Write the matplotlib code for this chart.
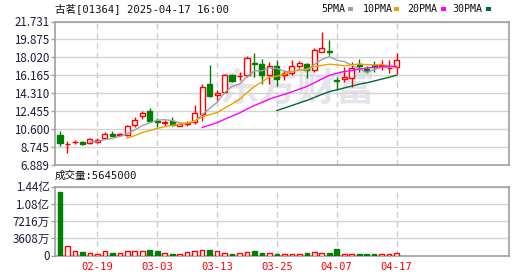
import matplotlib
matplotlib.use('Agg')
import matplotlib.pyplot as plt
import numpy as np
import pandas as pd
from matplotlib.patches import Rectangle

# ---------------- data ----------------
dates = ['02-12', '02-13', '02-14', '02-17', '02-18', '02-19', '02-20', '02-21',
         '02-24', '02-25', '02-26', '02-27', '02-28', '03-03', '03-04', '03-05',
         '03-06', '03-07', '03-10', '03-11', '03-12', '03-13', '03-14', '03-17',
         '03-18', '03-19', '03-20', '03-21', '03-24', '03-25', '03-26', '03-27',
         '03-28', '03-31', '04-01', '04-02', '04-03', '04-07', '04-08', '04-09',
         '04-10', '04-11', '04-14', '04-15', '04-16', '04-17']
open_ = [9.98, 9.04, 9.26, 9.28, 9.15, 9.31, 9.70, 10.05, 10.03, 10.01, 11.02, 11.96,
         12.44, 11.40, 11.27, 11.47, 10.92, 11.18, 11.29, 12.17, 15.29, 14.15, 14.42,
         16.23, 16.05, 16.16, 17.45, 17.38, 16.16, 17.10, 16.16, 16.45, 17.10, 17.38,
         16.75, 18.60, 18.70, 15.70, 15.80, 15.90, 17.38, 16.80, 17.20, 17.15, 16.92, 17.03]
high = [10.36, 9.38, 9.46, 9.32, 9.73, 9.73, 10.32, 10.43, 10.19, 11.02, 11.89, 12.44,
        12.75, 11.75, 11.54, 11.81, 11.26, 11.47, 13.14, 15.22, 17.20, 14.60, 16.26,
        16.33, 16.50, 18.14, 18.50, 17.90, 17.54, 17.70, 16.68, 17.70, 17.60, 17.42,
        18.96, 20.60, 19.80, 16.00, 17.00, 17.55, 17.90, 17.10, 17.60, 17.70, 17.70, 18.50]
low = [8.87, 8.11, 9.10, 8.94, 9.10, 9.21, 9.63, 9.84, 9.91, 9.94, 10.77, 11.60,
       11.37, 10.77, 10.92, 10.95, 10.88, 10.95, 11.13, 11.47, 13.90, 13.55, 14.36,
       15.50, 15.64, 15.98, 16.00, 15.30, 15.30, 15.10, 15.64, 16.16, 16.90, 15.87,
       16.50, 18.60, 18.30, 14.60, 15.50, 14.94, 16.50, 16.40, 16.55, 16.70, 16.40, 16.30]
close = [9.21, 9.10, 9.30, 9.10, 9.56, 9.52, 10.12, 9.94, 10.07, 10.95, 11.54, 12.30,
         11.47, 11.30, 11.31, 11.02, 11.13, 11.22, 12.27, 14.94, 14.07, 14.36, 16.16,
         15.57, 16.10, 17.96, 17.35, 16.16, 17.10, 15.81, 16.45, 17.10, 17.40, 16.70,
         18.80, 19.00, 18.60, 15.55, 16.00, 16.95, 17.13, 16.65, 17.10, 17.20, 16.97, 17.72]
volume = [132000000, 19000000, 9000000, 7000000, 4800000, 3500000, 9000000, 4800000,
          4800000, 9000000, 10000000, 10000000, 11000000, 9000000, 4800000, 2800000,
          2800000, 7000000, 9000000, 12400000, 11000000, 9000000, 4800000, 2800000,
          4800000, 7000000, 9000000, 4800000, 4800000, 2800000, 2800000, 2800000,
          2800000, 4800000, 7000000, 4800000, 4800000, 13000000, 2800000, 2800000,
          2800000, 2800000, 2800000, 2800000, 2800000, 5645000]

price_ticks = [6.889, 8.745, 10.600, 12.455, 14.310, 16.165, 18.020, 19.875, 21.731]
price_labels = ['6.889', '8.745', '10.600', '12.455', '14.310', '16.165', '18.020', '19.875', '21.731']
vol_ticks = [0, 36080000, 72160000, 108240000, 144320000]
vol_labels = ['0', '3608万', '7216万', '1.08亿', '1.44亿']
date_ticks = ['02-19', '03-03', '03-13', '03-25', '04-07', '04-17']
ma_periods = [5, 10, 20, 30]
ma_names = ['5PMA', '10PMA', '20PMA', '30PMA']
ma_colors = ['#a0a0a0', '#f0a000', '#ff00ff', '#006a32']

title_text = '古茗[01364] 2025-04-17 16:00'
vol_text = '成交量:5645000'

# ---------------- style ----------------
RED = '#ff0000'
GREEN = '#008000'
FRAME = '#a0a0a0'
GRID = '#d4d4d4'
TICKC = '#1c1c3c'
CJK = ['Noto Sans CJK SC', 'DejaVu Sans']
MONO = ['DejaVu Sans Mono', 'Noto Sans CJK SC']

W, H = 530, 276
fig = plt.figure(figsize=(W / 100, H / 100), dpi=100)
fig.patch.set_facecolor('white')

ax = fig.add_axes([55 / W, 1 - 165 / H, 454 / W, 143.5 / H])
axv = fig.add_axes([55 / W, 1 - 255.5 / H, 454 / W, 69 / H])

x = np.arange(len(dates))
o = np.array(open_); c = np.array(close); h = np.array(high); l = np.array(low)
up = c >= o
cols = np.where(up, RED, GREEN)

xlim = (-0.67, 60.03)

# ---- price panel ----
ax.text(0.535, 0.52, '东方财富', transform=ax.transAxes, fontsize=28,
        fontweight='bold', color='#e4e4ea', ha='center', va='center',
        family=CJK, zorder=0)

ax.vlines(x, l, h, colors=cols, linewidth=1, zorder=3)
body_bot = np.minimum(o, c)
body_h = np.maximum(np.abs(c - o), 0.02)
face = np.where(up, 'white', GREEN)
ax.bar(x, body_h, bottom=body_bot, width=0.68, color=face, edgecolor=cols,
       linewidth=1, zorder=4)

cs = pd.Series(close)
for p, col in zip(ma_periods, ma_colors):
    ma = cs.rolling(p).mean()
    ax.plot(x, ma.values, color=col, linewidth=1, zorder=5)

ax.set_xlim(*xlim)
ax.set_ylim(price_ticks[0], price_ticks[-1])
ax.set_yticks(price_ticks)
ax.set_yticklabels(price_labels)
ax.yaxis.grid(True, color=GRID, linewidth=1, linestyle='-')
date_idx = [dates.index(d) for d in date_ticks]
for xi in date_idx:
    ax.axvline(xi, color='#cccccc', linewidth=1, linestyle=(0, (4, 3)), zorder=1)
ax.set_xticks([])
ax.set_axisbelow(True)

# ---- volume panel ----
vcol = cols
vface = np.where(up, 'white', GREEN)
axv.bar(x, volume, width=0.62, color=vface, edgecolor=vcol, linewidth=1, zorder=3)
axv.set_xlim(*xlim)
axv.set_ylim(0, vol_ticks[-1])
axv.set_yticks(vol_ticks)
axv.set_yticklabels(vol_labels)
axv.yaxis.grid(True, color=GRID, linewidth=1, linestyle='-')
for xi in date_idx:
    axv.axvline(xi, color='#cccccc', linewidth=1, linestyle=(0, (4, 3)), zorder=1)
axv.set_xticks(date_idx)
axv.set_xticklabels(date_ticks)
axv.set_axisbelow(True)

for a in (ax, axv):
    for s in a.spines.values():
        s.set_color(FRAME)
        s.set_linewidth(1.2)
    a.tick_params(axis='y', length=3, width=1, color=FRAME, pad=1,
                  labelsize=8.3, labelcolor=TICKC)
    for t in a.get_yticklabels():
        t.set_family(CJK)

axv.tick_params(axis='x', length=0, pad=5, labelsize=7.6, labelcolor=RED)
for t in axv.get_xticklabels():
    t.set_family(MONO)

# ---- header texts ----
fig.text(55 / W, 1 - 9 / H, title_text, fontsize=7.6, family=MONO,
         color='#111111', ha='left', va='center')
fig.text(55 / W, 1 - 176 / H, vol_text, fontsize=7.6, family=MONO,
         color='#111111', ha='left', va='center')

leg_x = [321, 363, 407, 452]
sq_x = [348, 394, 441, 486]
for name, col, lx, sx in zip(ma_names, ma_colors, leg_x, sq_x):
    fig.text(lx / W, 1 - 9 / H, name, fontsize=7.2, family=MONO,
             color='#111111', ha='left', va='center')
    fig.add_artist(Rectangle((sx / W, 1 - 10.5 / H), 5 / W, 3 / H,
                             transform=fig.transFigure, facecolor=col,
                             edgecolor='none'))

fig.savefig('out.png', dpi=100, facecolor='white')
